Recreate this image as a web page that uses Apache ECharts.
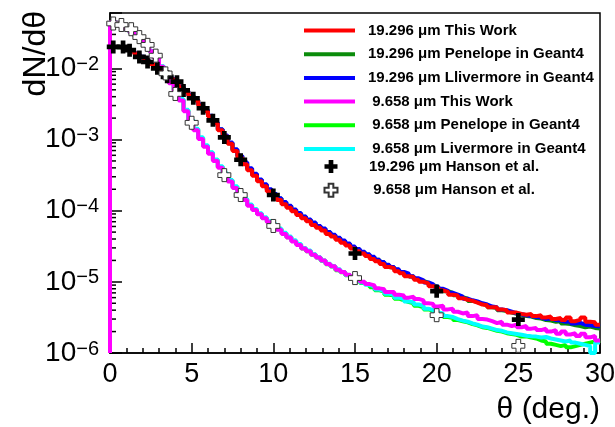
<!DOCTYPE html>
<html><head><meta charset="utf-8">
<script src="https://cdn.jsdelivr.net/npm/echarts@6/dist/echarts.min.js"></script>
<style>html,body{margin:0;padding:0;background:#fff}#main{width:615px;height:427px}</style>
</head><body><div id="main"></div>
<script>
// ---- data (histograms: 100 bins of 0.3 deg from 0 to 30) ----
const binWidth = 0.3;
const red19 = [
2.0e-2,2.0e-2,1.95e-2,1.9e-2,1.74e-2,1.58e-2,1.45e-2,1.29e-2,1.15e-2,1.02e-2,
9.1e-3,8.1e-3,7.1e-3,6.2e-3,5.4e-3,4.7e-3,4.1e-3,3.55e-3,3.0e-3,2.5e-3,
2.1e-3,1.7e-3,1.35e-3,1.1e-3,8.7e-4,6.9e-4,5.6e-4,4.5e-4,3.7e-4,3.1e-4,
2.6e-4,2.2e-4,1.86e-4,1.62e-4,1.41e-4,1.23e-4,1.10e-4,9.8e-5,8.7e-5,7.8e-5,
7.1e-5,6.3e-5,5.75e-5,5.25e-5,4.7e-5,4.35e-5,3.9e-5,3.55e-5,3.25e-5,2.95e-5,
2.7e-5,2.5e-5,2.3e-5,2.1e-5,1.95e-5,1.78e-5,1.62e-5,1.55e-5,1.41e-5,1.32e-5,
1.2e-5,1.17e-5,1.07e-5,1.0e-5,9.5e-6,8.7e-6,8.3e-6,7.6e-6,7.2e-6,6.6e-6,
6.45e-6,5.9e-6,5.6e-6,5.4e-6,5.1e-6,4.8e-6,4.7e-6,4.4e-6,4.4e-6,4.1e-6,
4.0e-6,3.7e-6,3.7e-6,3.55e-6,3.45e-6,3.55e-6,3.3e-6,3.4e-6,3.15e-6,3.25e-6,
3.0e-6,3.1e-6,2.9e-6,3.15e-6,2.8e-6,2.95e-6,3.15e-6,2.75e-6,2.7e-6,2.5e-6];
const green19 = [
2.0e-2,1.98e-2,1.94e-2,1.88e-2,1.74e-2,1.59e-2,1.45e-2,1.3e-2,1.15e-2,1.02e-2,
9.1e-3,8.1e-3,7.1e-3,6.2e-3,5.45e-3,4.75e-3,4.15e-3,3.58e-3,3.05e-3,2.55e-3,
2.12e-3,1.72e-3,1.38e-3,1.12e-3,8.9e-4,7.1e-4,5.8e-4,4.7e-4,3.85e-4,3.2e-4,
2.7e-4,2.3e-4,1.95e-4,1.7e-4,1.48e-4,1.29e-4,1.15e-4,1.02e-4,9.1e-5,8.2e-5,
7.4e-5,6.6e-5,6.0e-5,5.5e-5,4.95e-5,4.5e-5,4.1e-5,3.75e-5,3.4e-5,3.1e-5,
2.85e-5,2.6e-5,2.4e-5,2.2e-5,2.05e-5,1.88e-5,1.72e-5,1.6e-5,1.48e-5,1.37e-5,
1.27e-5,1.19e-5,1.1e-5,1.03e-5,9.7e-6,9.0e-6,8.5e-6,7.9e-6,7.4e-6,7.0e-6,
6.5e-6,6.1e-6,5.8e-6,5.4e-6,5.2e-6,4.9e-6,4.7e-6,4.4e-6,4.3e-6,4.0e-6,
3.9e-6,3.7e-6,3.55e-6,3.45e-6,3.3e-6,3.25e-6,3.1e-6,3.05e-6,2.9e-6,2.85e-6,
2.75e-6,2.8e-6,2.6e-6,2.55e-6,2.45e-6,2.4e-6,2.3e-6,2.35e-6,2.25e-6,2.2e-6];
const blue19 = [
2.0e-2,2.0e-2,1.95e-2,1.9e-2,1.75e-2,1.6e-2,1.46e-2,1.3e-2,1.16e-2,1.03e-2,
9.2e-3,8.2e-3,7.2e-3,6.3e-3,5.5e-3,4.8e-3,4.2e-3,3.6e-3,3.1e-3,2.6e-3,
2.15e-3,1.75e-3,1.4e-3,1.14e-3,9.1e-4,7.3e-4,5.9e-4,4.8e-4,3.95e-4,3.3e-4,
2.75e-4,2.35e-4,2.0e-4,1.72e-4,1.5e-4,1.32e-4,1.17e-4,1.04e-4,9.3e-5,8.3e-5,
7.5e-5,6.8e-5,6.1e-5,5.6e-5,5.0e-5,4.6e-5,4.15e-5,3.8e-5,3.45e-5,3.15e-5,
2.9e-5,2.65e-5,2.45e-5,2.25e-5,2.05e-5,1.9e-5,1.74e-5,1.62e-5,1.5e-5,1.38e-5,
1.3e-5,1.2e-5,1.12e-5,1.05e-5,9.8e-6,9.2e-6,8.6e-6,8.0e-6,7.5e-6,7.0e-6,
6.6e-6,6.2e-6,5.8e-6,5.5e-6,5.3e-6,5.0e-6,4.8e-6,4.5e-6,4.4e-6,4.1e-6,
4.0e-6,3.8e-6,3.6e-6,3.5e-6,3.4e-6,3.3e-6,3.2e-6,3.15e-6,3.0e-6,3.05e-6,
2.9e-6,2.85e-6,2.75e-6,2.8e-6,2.6e-6,2.65e-6,2.5e-6,2.45e-6,2.4e-6,2.35e-6];
const magenta9 = [
4.47e-2,4.27e-2,3.9e-2,3.55e-2,3.16e-2,2.82e-2,2.45e-2,2.1e-2,1.74e-2,1.38e-2,
1.05e-2,7.9e-3,6.2e-3,4.8e-3,3.55e-3,2.5e-3,1.78e-3,1.35e-3,1.02e-3,7.9e-4,
6.3e-4,5.0e-4,4.0e-4,3.16e-4,2.57e-4,2.09e-4,1.7e-4,1.41e-4,1.17e-4,1.02e-4,
8.9e-5,7.8e-5,6.9e-5,6.2e-5,5.4e-5,4.7e-5,4.2e-5,3.7e-5,3.3e-5,2.95e-5,
2.7e-5,2.4e-5,2.2e-5,2.0e-5,1.78e-5,1.66e-5,1.48e-5,1.38e-5,1.26e-5,1.17e-5,
1.1e-5,1.0e-5,9.3e-6,8.9e-6,8.1e-6,7.9e-6,7.2e-6,7.2e-6,6.6e-6,6.45e-6,
6.0e-6,6.2e-6,5.75e-6,5.5e-6,5.0e-6,4.9e-6,4.5e-6,4.6e-6,4.1e-6,4.2e-6,
3.8e-6,3.6e-6,3.7e-6,3.3e-6,3.4e-6,3.0e-6,2.95e-6,2.8e-6,2.63e-6,2.75e-6,
2.5e-6,2.4e-6,2.5e-6,2.3e-6,2.4e-6,2.2e-6,2.25e-6,2.1e-6,2.2e-6,2.0e-6,
2.1e-6,1.86e-6,2.0e-6,1.82e-6,1.9e-6,1.74e-6,1.86e-6,1.66e-6,1.74e-6,1.5e-6];
const lime9 = [
4.45e-2,4.26e-2,3.88e-2,3.54e-2,3.15e-2,2.8e-2,2.44e-2,2.1e-2,1.73e-2,1.38e-2,
1.05e-2,8.0e-3,6.3e-3,4.9e-3,3.62e-3,2.56e-3,1.83e-3,1.39e-3,1.05e-3,8.1e-4,
6.5e-4,5.15e-4,4.1e-4,3.25e-4,2.65e-4,2.15e-4,1.75e-4,1.45e-4,1.2e-4,1.04e-4,
9.0e-5,7.9e-5,7.0e-5,6.3e-5,5.5e-5,4.8e-5,4.25e-5,3.75e-5,3.35e-5,2.95e-5,
2.7e-5,2.4e-5,2.2e-5,1.98e-5,1.76e-5,1.64e-5,1.46e-5,1.36e-5,1.24e-5,1.14e-5,
1.06e-5,9.6e-6,9.0e-6,8.4e-6,7.6e-6,7.3e-6,6.6e-6,6.4e-6,5.8e-6,5.5e-6,
5.2e-6,5.0e-6,4.6e-6,4.4e-6,4.1e-6,3.9e-6,3.6e-6,3.5e-6,3.2e-6,3.1e-6,
2.9e-6,2.8e-6,2.7e-6,2.55e-6,2.45e-6,2.3e-6,2.25e-6,2.15e-6,2.05e-6,2.0e-6,
1.9e-6,1.85e-6,1.8e-6,1.7e-6,1.72e-6,1.65e-6,1.6e-6,1.5e-6,1.45e-6,1.35e-6,
1.3e-6,1.25e-6,1.3e-6,1.2e-6,1.25e-6,1.3e-6,1.35e-6,1.4e-6,1.45e-6,1.5e-6];
const cyan9 = [
4.45e-2,4.25e-2,3.9e-2,3.55e-2,3.18e-2,2.84e-2,2.47e-2,2.12e-2,1.76e-2,1.4e-2,
1.07e-2,8.1e-3,6.4e-3,5.0e-3,3.7e-3,2.62e-3,1.88e-3,1.42e-3,1.08e-3,8.3e-4,
6.6e-4,5.25e-4,4.2e-4,3.32e-4,2.7e-4,2.2e-4,1.78e-4,1.47e-4,1.22e-4,1.06e-4,
9.2e-5,8.1e-5,7.1e-5,6.4e-5,5.6e-5,4.9e-5,4.35e-5,3.85e-5,3.4e-5,3.0e-5,
2.75e-5,2.45e-5,2.22e-5,2.0e-5,1.8e-5,1.66e-5,1.5e-5,1.38e-5,1.25e-5,1.15e-5,
1.07e-5,9.8e-6,9.1e-6,8.6e-6,7.8e-6,7.4e-6,6.8e-6,6.6e-6,6.0e-6,5.7e-6,
5.3e-6,5.2e-6,4.8e-6,4.6e-6,4.2e-6,4.0e-6,3.7e-6,3.6e-6,3.3e-6,3.2e-6,
3.0e-6,2.85e-6,2.75e-6,2.6e-6,2.5e-6,2.35e-6,2.3e-6,2.2e-6,2.1e-6,2.05e-6,
1.95e-6,1.9e-6,1.85e-6,1.8e-6,1.75e-6,1.72e-6,1.7e-6,1.65e-6,1.68e-6,1.6e-6,
1.55e-6,1.5e-6,1.45e-6,1.5e-6,1.4e-6,1.35e-6,1.3e-6,1.25e-6,1.0e-6,1.4e-6];
// Hanson et al. measured points
const hansonX19 = [0.2,0.8,1.2,1.8,2.3,2.9,3.5,4.1,4.5,5.1,5.7,6.3,7.0,8.0,10.0,15.0,20.0,25.0];
const hansonY19 = [2.0e-2,2.0e-2,1.8e-2,1.45e-2,1.23e-2,1.0e-2,7.6e-3,6.5e-3,4.9e-3,3.8e-3,2.75e-3,1.86e-3,1.07e-3,5.2e-4,1.66e-4,2.5e-5,7.4e-6,2.95e-6];
const hansonX9 = [0.2,0.7,1.3,1.8,2.3,2.8,3.4,4.0,5.0,7.0,8.0,10.0,15.0,20.0,25.0];
const hansonY9 = [4.27e-2,4.07e-2,3.55e-2,2.75e-2,2.14e-2,1.51e-2,8.5e-3,4.37e-3,1.72e-3,3.16e-4,1.66e-4,6.1e-5,1.13e-5,3.4e-6,1.26e-6];

const names = ['19.296 μm This Work','19.296 μm Penelope in Geant4','19.296 μm Llivermore in Geant4',
  ' 9.658 μm This Work',' 9.658 μm Penelope in Geant4',' 9.658 μm Livermore in Geant4',
  '19.296 μm Hanson et al.',' 9.658 μm Hanson et al.'];
const xMin = 0, xMax = 30, xInterval = 5;
const yMin = 1e-6, yMax = 0.06;

const FONT = 'Liberation Sans, Arial, Helvetica, sans-serif';
const crossPath = 'path://M3.2,0 H6.8 V3.2 H10 V6.8 H6.8 V10 H3.2 V6.8 H0 V3.2 H3.2 Z';

function histData(vals) {
  const d = [[xMin, yMin]];
  vals.forEach((v, i) => d.push([+((i + 1) * binWidth).toFixed(2), v]));
  return d;
}
function hist(name, vals, color) {
  return {type:'line', name, data: histData(vals), step:'start', showSymbol:false, symbol:'none',
    clip:false, lineStyle:{color, width:4}, itemStyle:{color}, z:3};
}
const minorTickVals = [];
for (let e = -6; e <= -2; e++) for (let k = 2; k <= 9; k++) { const v = k * Math.pow(10, e); if (v < yMax) minorTickVals.push(v); }

const legendText = {fontFamily:FONT, fontWeight:'bold', fontSize:15, lineHeight:14, color:'#000'};
const chart = echarts.init(document.getElementById('main'), null, {renderer:'canvas'});
chart.setOption({
  animation:false,
  backgroundColor:'#fff',
  grid:{left:110, right:15, top:13, bottom:74, show:true, borderColor:'#000', borderWidth:1.5, containLabel:false, outerBoundsMode:'none'},
  xAxis:{type:'value', min:xMin, max:xMax, interval:xInterval,
    name:'θ (deg.)', nameLocation:'end', nameGap:0, nameMoveOverlap:false,
    nameTextStyle:{fontFamily:FONT, fontSize:30, color:'#000', align:'right', verticalAlign:'top', padding:[42,0,0,0]},
    axisLine:{lineStyle:{color:'#000', width:1.5}},
    axisTick:{inside:true, length:10, lineStyle:{color:'#000', width:1.5}},
    minorTick:{show:true, splitNumber:5, length:5, lineStyle:{color:'#000', width:1.5}},
    splitLine:{show:false},
    axisLabel:{fontFamily:FONT, fontSize:27, color:'#000', margin:8}},
  yAxis:{type:'log', logBase:10, min:yMin, max:yMax,
    name:'dN/dθ', nameLocation:'end', nameRotate:90, nameGap:2, nameMoveOverlap:false,
    nameTextStyle:{fontFamily:FONT, fontSize:32, color:'#000', align:'right', verticalAlign:'bottom', padding:[0,0,58,0]},
    axisLine:{lineStyle:{color:'#000', width:1.5}},
    axisTick:{inside:true, length:12, lineStyle:{color:'#000', width:1.5}},
    splitLine:{show:false},
    axisLabel:{fontFamily:FONT, fontSize:28, color:'#000', margin:11,
      formatter: v => { const e = Math.log10(v), r = Math.round(e); return Math.abs(e - r) < 1e-6 ? '10{sup|' + (r < 0 ? '−' + (-r) : r) + '}' : ''; },
      rich:{sup:{fontFamily:FONT, fontSize:20, color:'#000', verticalAlign:'top'}}}},
  legend:[
    {data: names.slice(0,6).map(n => ({name:n, icon:'rect'})), orient:'vertical', left:304, top:23, padding:0,
     itemWidth:51, itemHeight:4, itemGap:8.7, selectedMode:false,
     textStyle:Object.assign({padding:[0,0,0,8]}, legendText)},
    {data: names.slice(6).map(n => ({name:n, icon:crossPath})), orient:'vertical', left:323.5, top:159, padding:0,
     itemWidth:13, itemHeight:13, itemGap:8.7, selectedMode:false,
     textStyle:Object.assign({padding:[0,0,0,26.5]}, legendText)}
  ],
  series:[
    {type:'custom', silent:true, z:1, data: minorTickVals.map(v => [xMin, v]),
     renderItem:(params, api) => { const p = api.coord([api.value(0), api.value(1)]);
       return {type:'line', shape:{x1:p[0], y1:p[1], x2:p[0] + 6, y2:p[1]}, style:{stroke:'#000', lineWidth:1.5}}; }},
    hist(names[1], green19, '#0b8c0b'),
    hist(names[2], blue19, '#0000ff'),
    hist(names[0], red19, '#ff0000'),
    hist(names[4], lime9, '#00ff00'),
    hist(names[5], cyan9, '#00ffff'),
    hist(names[3], magenta9, '#ff00ff'),
    {type:'scatter', name:names[6], data: hansonX19.map((x, i) => [x, hansonY19[i]]), symbol:crossPath, symbolSize:13,
     itemStyle:{color:'#000', opacity:1}, z:5},
    {type:'scatter', name:names[7], data: hansonX9.map((x, i) => [x, hansonY9[i]]), symbol:crossPath, symbolSize:13,
     itemStyle:{color:'#fff', borderColor:'#333', borderWidth:1, opacity:1}, z:5}
  ]
});
</script></body></html>
